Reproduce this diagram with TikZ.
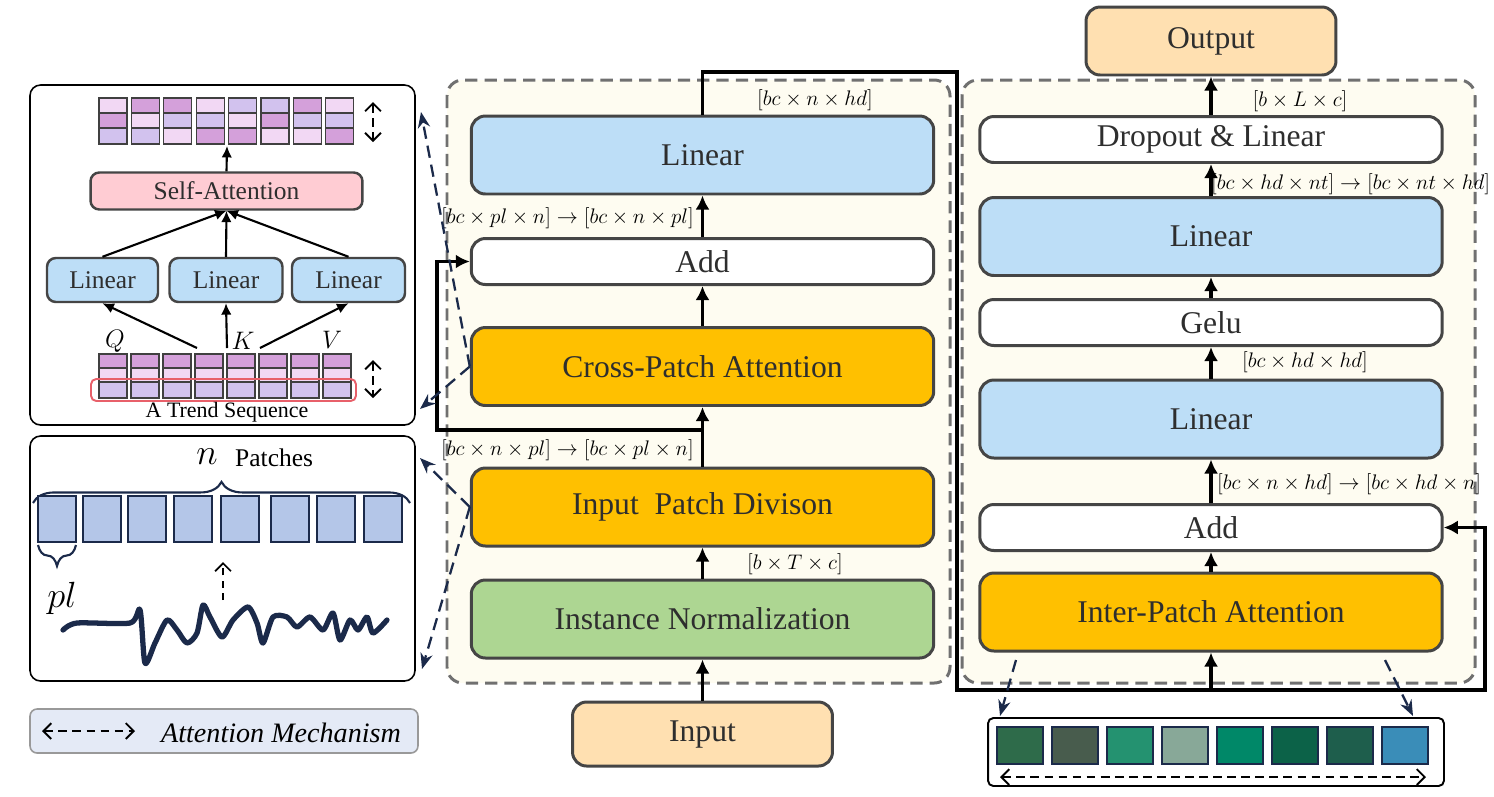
\documentclass[tikz,border=0pt]{standalone}
\usepackage{fontspec}
\setmainfont{Liberation Serif}
\usepackage{xcolor}
\usepackage{tikz}
\usetikzlibrary{arrows.meta,positioning,decorations.pathreplacing}

\definecolor{panelFill}{HTML}{FEFCF1}
\definecolor{dashGray}{HTML}{707070}
\definecolor{boxEdge}{HTML}{454545}
\definecolor{textGray}{HTML}{2E2E2E}
\definecolor{linBlue}{HTML}{BDDEF7}
\definecolor{attnOrange}{HTML}{FFC000}
\definecolor{normGreen}{HTML}{ADD692}
\definecolor{ioPeach}{HTML}{FFE0B1}
\definecolor{saPink}{HTML}{FFCCD3}
\definecolor{navy}{HTML}{1B2A4A}
\definecolor{patchBlue}{HTML}{B4C6E8}
\definecolor{legendFill}{HTML}{E4EAF6}
\definecolor{cellA}{HTML}{F2D8F4}
\definecolor{cellB}{HTML}{D4A0DA}
\definecolor{cellC}{HTML}{D2C2EE}
\definecolor{trendRed}{HTML}{E8606A}
\definecolor{seqA}{HTML}{2E6B4A}
\definecolor{seqB}{HTML}{485C4D}
\definecolor{seqC}{HTML}{249270}
\definecolor{seqD}{HTML}{88A898}
\definecolor{seqE}{HTML}{008868}
\definecolor{seqF}{HTML}{0C6248}
\definecolor{seqG}{HTML}{1E5E4C}
\definecolor{seqH}{HTML}{3A8DB8}

\begin{document}
\begin{tikzpicture}[
  x=0.02cm,
  y=-0.02cm,
  block/.style={draw=boxEdge, line width=1.7pt, rounded corners=8pt, text=textGray, inner sep=0pt, minimum width=9.25cm, font=\fontsize{18}{20}\selectfont},
  tallBlock/.style={block, minimum height=1.56cm},
  flatBlock/.style={block, minimum height=0.92cm},
  smallBlock/.style={draw=boxEdge, line width=1.4pt, rounded corners=5pt, text=textGray, inner sep=0pt, minimum height=0.88cm, font=\fontsize{14.5}{16}\selectfont},
  dimLabel/.style={font=\fontsize{12}{14}\selectfont},
  flow/.style={line width=1.9pt, -{Latex[length=8pt,width=8pt]}},
  thinFlow/.style={line width=1.2pt, -{Latex[length=6.5pt,width=6pt]}},
  attnLink/.style={draw=navy, line width=1.3pt, dash pattern=on 7pt off 4pt, -{Stealth[length=9pt,width=7pt]}},
  panel/.style={draw=dashGray, line width=1.7pt, dash pattern=on 7pt off 4pt, rounded corners=9pt, fill=panelFill},
  sidePanel/.style={draw=black, line width=0.9pt, rounded corners=6pt, fill=white},
  barbs/.style={line width=1.1pt, dash pattern=on 5pt off 3pt, {Straight Barb[length=4.5pt,width=9pt]}-{Straight Barb[length=4.5pt,width=9pt]}},
  cell/.style={draw=black!75, line width=0.7pt},
  patch/.style={draw=navy, line width=1.1pt, fill=patchBlue},
  seqCell/.style={draw=navy, line width=1.1pt}
]
\useasboundingbox (0,0) rectangle (1494,796);

\path[panel] (447,80) rectangle (950,683);
\path[panel] (962,80) rectangle (1475,683);
\path[sidePanel] (30,85) rectangle (415,425);
\path[sidePanel] (30,436) rectangle (415,681);

\node[tallBlock, fill=linBlue] (mlin) at (702.5,155) {Linear};
\node[flatBlock, fill=white] (madd) at (702.5,261.5) {Add};
\node[tallBlock, fill=attnOrange] (cpa) at (702.5,366.5) {Cross-Patch Attention};
\node[tallBlock, fill=attnOrange] (ipd) at (702.5,507) {Input\ \ Patch Divison};
\node[tallBlock, fill=normGreen] (inorm) at (702.5,619) {Instance Normalization};
\node[block, fill=ioPeach, minimum width=5.2cm, minimum height=1.28cm] (input) at (702.5,734) {Input};

\node[flatBlock, fill=white] (drop) at (1211,139.5) {Dropout \& Linear};
\node[tallBlock, fill=linBlue] (rlin2) at (1211,236.5) {Linear};
\node[flatBlock, fill=white] (gelu) at (1211,322.5) {Gelu};
\node[tallBlock, fill=linBlue] (rlin1) at (1211,419) {Linear};
\node[flatBlock, fill=white] (radd) at (1211,527.5) {Add};
\node[tallBlock, fill=attnOrange] (ipa) at (1211,612) {Inter-Patch Attention};
\node[block, fill=ioPeach, minimum width=5.0cm, minimum height=1.36cm] (output) at (1211,41) {Output};

\node[dimLabel] (dimA) at (815,100) {$[bc \times n \times hd]$};
\node[dimLabel, anchor=east] (dimB) at (700,218) {$[bc \times pl \times n] \rightarrow [bc \times n \times pl]$};
\node[dimLabel, anchor=east] (dimC) at (700,450) {$[bc \times n \times pl] \rightarrow [bc \times pl \times n]$};
\node[dimLabel] (dimD) at (795,564) {$[b \times T \times c]$};
\node[dimLabel] (dimE) at (1300,101) {$[b \times L \times c]$};
\node[dimLabel, anchor=west] (dimF) at (1205,184) {$[bc \times hd \times nt] \rightarrow [bc \times nt \times hd]$};
\node[dimLabel] (dimG) at (1305,362) {$[bc \times hd \times hd]$};
\node[dimLabel, anchor=west] (dimH) at (1211,484) {$[bc \times n \times hd] \rightarrow [bc \times hd \times n]$};

\draw[flow] (input) -- (inorm);
\draw[flow] (inorm) -- (ipd);
\draw[flow] (ipd) -- (cpa);
\draw[flow] (cpa) -- (madd);
\draw[flow] (madd) -- (mlin);
\coordinate (split) at (702.5,430);
\coordinate (skipLeft) at (437,430);
\draw[flow] (split) -- (skipLeft) |- (madd.west);

\coordinate (topRun) at (957,72);
\coordinate (downRun) at (957,690);
\coordinate (farRun) at (1485,690);
\draw[flow] (mlin.north) |- (topRun) -- (downRun) -- (farRun) |- (radd.east);
\draw[flow] (ipa.south |- farRun) -- (ipa.south);

\draw[flow] (ipa) -- (radd);
\draw[flow] (radd) -- (rlin1);
\draw[flow] (rlin1) -- (gelu);
\draw[flow] (gelu) -- (rlin2);
\draw[flow] (rlin2) -- (drop);
\draw[flow] (drop) -- (output);

\foreach \i/\ca/\cb/\cc in {0/cellA/cellB/cellC, 1/cellB/cellA/cellC, 2/cellB/cellC/cellA, 3/cellA/cellC/cellB, 4/cellC/cellA/cellB, 5/cellC/cellB/cellA, 6/cellB/cellC/cellA, 7/cellA/cellC/cellB} {
  \pgfmathsetmacro\xl{99+32.4*\i}
  \draw[cell, fill=\ca] (\xl,98) rectangle ++(28,15);
  \draw[cell, fill=\cb] (\xl,113) rectangle ++(28,15);
  \draw[cell, fill=\cc] (\xl,128) rectangle ++(28,16);
}
\foreach \i in {0,...,7} {
  \pgfmathsetmacro\xl{99+32*\i}
  \draw[cell, fill=cellB] (\xl,354) rectangle ++(28,14);
  \draw[cell, fill=cellA] (\xl,368) rectangle ++(28,14);
  \draw[cell, fill=cellC] (\xl,382) rectangle ++(28,16);
}
\draw[trendRed, line width=1.1pt, rounded corners=3pt] (91,379) rectangle (356,401);
\node[font=\fontsize{12.5}{14}\selectfont] (trendText) at (227,412) {A Trend Sequence};

\node[smallBlock, fill=saPink, minimum width=5.44cm, minimum height=0.74cm] (sa) at (226.5,191) {Self-Attention};
\node[smallBlock, fill=linBlue, minimum width=2.22cm] (lq) at (102.5,280) {Linear};
\node[smallBlock, fill=linBlue, minimum width=2.26cm] (lk) at (226,280) {Linear};
\node[smallBlock, fill=linBlue, minimum width=2.26cm] (lv) at (348.5,280) {Linear};
\node[font=\fontsize{14}{16}\selectfont] (qLab) at (115,341) {$Q$};
\node[font=\fontsize{14}{16}\selectfont] (kLab) at (243,341) {$K$};
\node[font=\fontsize{14}{16}\selectfont] (vLab) at (332,340) {$V$};

\coordinate (gridOut) at (227,146);
\coordinate (tq) at (197,348);
\coordinate (tk) at (227,348);
\coordinate (tv) at (260,348);
\draw[thinFlow] (sa.north) -- (gridOut);
\draw[thinFlow] (lq.north) -- (sa.south);
\draw[thinFlow] (lk.north) -- (sa.south);
\draw[thinFlow] (lv.north) -- (sa.south);
\draw[thinFlow] (tq) -- (lq.south);
\draw[thinFlow] (tk) -- (lk.south);
\draw[thinFlow] (tv) -- (lv.south);
\draw[barbs] (373,102) -- (373,142);
\draw[barbs] (373,360) -- (373,398);

\node[font=\fontsize{22}{24}\selectfont] (nLab) at (207,457) {$n$};
\node[font=\fontsize{14.5}{16}\selectfont, anchor=west] (patchText) at (229,458) {Patches};
\draw[navy, line width=1.2pt, decorate, decoration={brace, amplitude=12pt, aspect=0.5}] (33,503) -- (410,503);
\foreach \x in {38,83,128,174,221,271,317,364} {
  \draw[patch] (\x,496) rectangle ++(38,46);
}
\draw[navy, line width=1.2pt, decorate, decoration={brace, amplitude=12pt}] (76,545) -- (38,545);
\node[font=\fontsize{22}{24}\selectfont] (plLab) at (62,598) {$pl$};
\draw[line width=1pt, dash pattern=on 4pt off 3pt, -{Straight Barb[length=4.5pt,width=9pt]}] (223,600) -- (223,562);
\draw[navy, line width=3pt, line cap=round, line join=round] plot[smooth, tension=0.45] coordinates {(63,630) (77,623) (130,623) (140,610) (145,663) (155,643) (167,620) (177,630) (187,643) (197,633) (203,605) (210,617) (222,637) (233,620) (248,607) (257,623) (263,643) (273,617) (287,617) (297,627) (310,617) (323,630) (333,613) (340,640) (350,620) (358,630) (367,617) (373,633) (387,620)};

\coordinate (attnHi) at (421,112);
\coordinate (attnLo) at (420,409);
\coordinate (patchHi) at (420,458);
\coordinate (patchLo) at (422,669);
\draw[attnLink] (cpa.west) -- (attnHi);
\draw[attnLink] (cpa.west) -- (attnLo);
\draw[attnLink] (ipd.west) -- (patchHi);
\draw[attnLink] (ipd.west) -- (patchLo);

\node[draw=gray!80, line width=0.9pt, fill=legendFill, rounded corners=4pt, minimum width=7.76cm, minimum height=0.88cm] (legend) at (224,731) {};
\draw[line width=1.1pt, dash pattern=on 5pt off 3pt, {Straight Barb[length=4.5pt,width=9pt]}-{Straight Barb[length=4.5pt,width=9pt]}] (42,731) -- (135,731);
\node[font=\fontsize{16}{18}\selectfont\itshape] (legendText) at (281,733) {Attention Mechanism};

\node[draw=black, line width=1.1pt, rounded corners=3pt, minimum width=9.12cm, minimum height=1.36cm] (seqBox) at (1216,752) {};
\foreach \i/\c in {0/seqA, 1/seqB, 2/seqC, 3/seqD, 4/seqE, 5/seqF, 6/seqG, 7/seqH} {
  \pgfmathsetmacro\xl{997+55*\i}
  \draw[seqCell, fill=\c] (\xl,727) rectangle ++(46,37);
}
\draw[barbs] (1000,777) -- (1426,777);
\coordinate (ipaL) at (1016,660);
\coordinate (ipaR) at (1385,660);
\coordinate (seqL) at (1000,716);
\coordinate (seqR) at (1413,716);
\draw[attnLink] (ipaL) -- (seqL);
\draw[attnLink] (ipaR) -- (seqR);
\end{tikzpicture}
\end{document}
